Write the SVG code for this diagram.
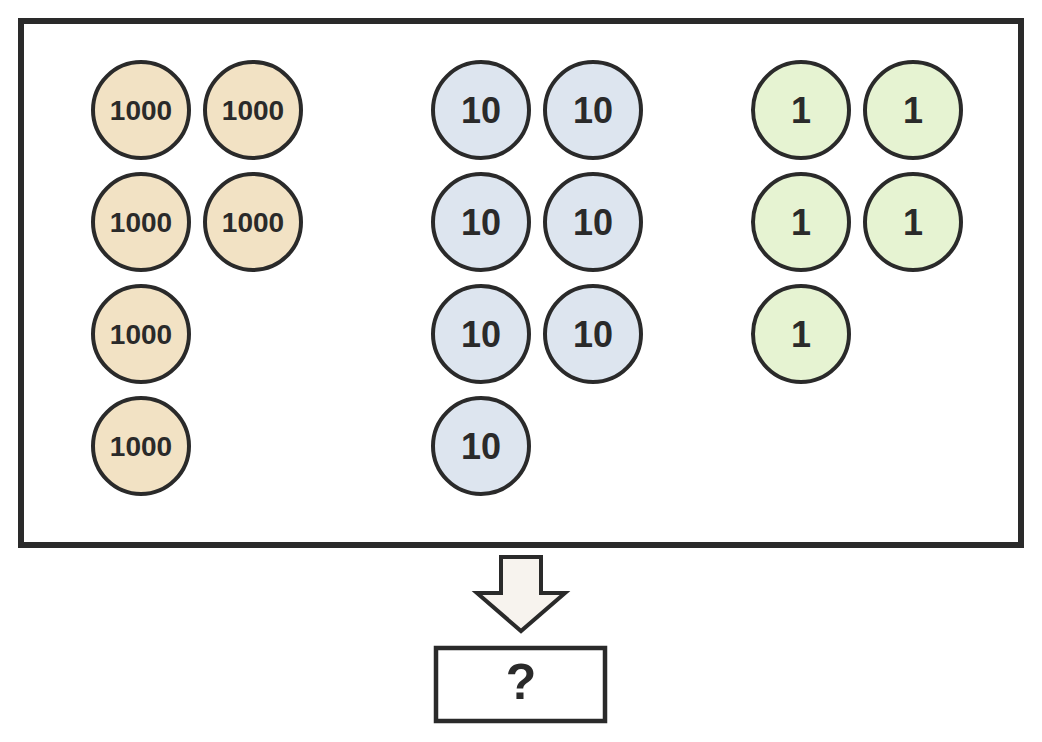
<svg xmlns="http://www.w3.org/2000/svg" width="1042" height="742" viewBox="0 0 1042 742">
<style>
.c{stroke:#2a2a2a;stroke-width:4}
.t{fill:#f2e2c4}.b{fill:#dde5ef}.g{fill:#e6f3d2}
text{font-family:"Liberation Sans",Arial,sans-serif;font-weight:bold;fill:#2a2a2a;text-anchor:middle}
.s{font-size:28px}.m{font-size:36px}
</style>
<rect width="1042" height="742" fill="#fff"/>
<rect id="frame" x="21" y="21" width="1000" height="524" fill="#fff" stroke="#2a2a2a" stroke-width="6"/>
<g id="thousands">
<circle class="c t" cx="141" cy="110" r="48"/><text class="s" x="141" y="120">1000</text>
<circle class="c t" cx="253" cy="110" r="48"/><text class="s" x="253" y="120">1000</text>
<circle class="c t" cx="141" cy="222" r="48"/><text class="s" x="141" y="232">1000</text>
<circle class="c t" cx="253" cy="222" r="48"/><text class="s" x="253" y="232">1000</text>
<circle class="c t" cx="141" cy="334" r="48"/><text class="s" x="141" y="344">1000</text>
<circle class="c t" cx="141" cy="446" r="48"/><text class="s" x="141" y="456">1000</text>
</g>
<g id="tens">
<circle class="c b" cx="481" cy="110" r="48"/><text class="m" x="481" y="123">10</text>
<circle class="c b" cx="593" cy="110" r="48"/><text class="m" x="593" y="123">10</text>
<circle class="c b" cx="481" cy="222" r="48"/><text class="m" x="481" y="235">10</text>
<circle class="c b" cx="593" cy="222" r="48"/><text class="m" x="593" y="235">10</text>
<circle class="c b" cx="481" cy="334" r="48"/><text class="m" x="481" y="347">10</text>
<circle class="c b" cx="593" cy="334" r="48"/><text class="m" x="593" y="347">10</text>
<circle class="c b" cx="481" cy="446" r="48"/><text class="m" x="481" y="459">10</text>
</g>
<g id="ones">
<circle class="c g" cx="801" cy="110" r="48"/><text class="m" x="801" y="123">1</text>
<circle class="c g" cx="913" cy="110" r="48"/><text class="m" x="913" y="123">1</text>
<circle class="c g" cx="801" cy="222" r="48"/><text class="m" x="801" y="235">1</text>
<circle class="c g" cx="913" cy="222" r="48"/><text class="m" x="913" y="235">1</text>
<circle class="c g" cx="801" cy="334" r="48"/><text class="m" x="801" y="347">1</text>
</g>
<g id="connectors">
<path d="M501 557 L541 557 L541 593 L565 593 L521 631 L477 593 L501 593 Z" fill="#f7f3ee" stroke="#2a2a2a" stroke-width="4" stroke-linejoin="miter"/>
</g>
<g id="result">
<rect x="436" y="648" width="169" height="73" fill="#fff" stroke="#2a2a2a" stroke-width="4.5"/>
<text x="521" y="699" style="font-size:50px">?</text>
</g>
</svg>
